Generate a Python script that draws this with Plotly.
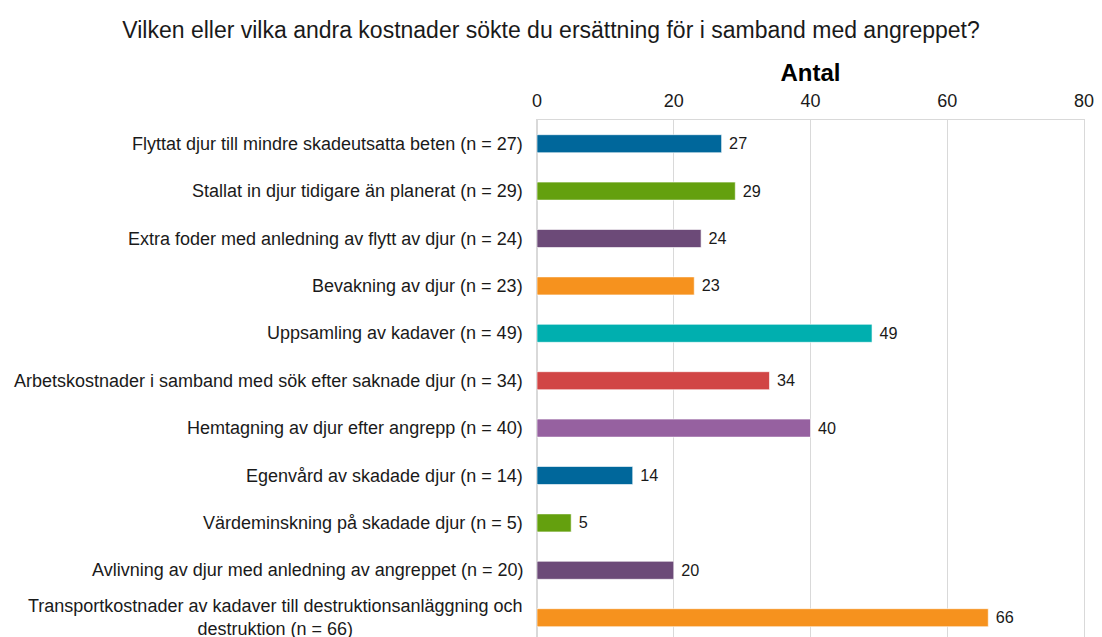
import plotly.graph_objects as go

categories = [
    "Flyttat djur till mindre skadeutsatta beten (n = 27)",
    "Stallat in djur tidigare än planerat (n = 29)",
    "Extra foder med anledning av flytt av djur (n = 24)",
    "Bevakning av djur (n = 23)",
    "Uppsamling av kadaver (n = 49)",
    "Arbetskostnader i samband med sök efter saknade djur (n = 34)",
    "Hemtagning av djur efter angrepp (n = 40)",
    "Egenvård av skadade djur (n = 14)",
    "Värdeminskning på skadade djur (n = 5)",
    "Avlivning av djur med anledning av angreppet (n = 20)",
    "Transportkostnader av kadaver till destruktionsanläggning och<br>destruktion (n = 66)",
]
values = [27, 29, 24, 23, 49, 34, 40, 14, 5, 20, 66]
colors = ["#00679B", "#64A00E", "#6C4A78", "#F6921E", "#00AFAF",
          "#D14545", "#9661A0", "#00679B", "#64A00E", "#6C4A78", "#F6921E"]
x_ticks = [0, 20, 40, 60, 80]

font = "Liberation Sans, Arial, sans-serif"
txt = "#1a1a1a"
grid = "#D9D9D9"

W, H = 1086, 629
T = 112
row_px = 47.4
y_bottom = -0.5 + (H - T) / row_px

fig = go.Figure(go.Bar(
    y=list(range(len(categories))),
    x=values,
    orientation="h",
    width=0.38,
    marker=dict(color=colors, line=dict(color="rgba(255,255,255,0.6)", width=1)),
    texttemplate=" %{x}",
    textposition="outside",
    textfont=dict(size=18, color=txt, family=font),
    cliponaxis=False,
))

for i, c in enumerate(categories):
    fig.add_annotation(
        x=0, xref="paper", y=i, yref="y",
        text=c, showarrow=False, xanchor="right", xshift=-12,
        align="center", font=dict(size=18, color=txt, family=font),
    )

fig.update_layout(
    width=W, height=H,
    margin=dict(l=529, r=10, t=T, b=0),
    paper_bgcolor="white", plot_bgcolor="white",
    showlegend=False,
    title=dict(
        text="Vilken eller vilka andra kostnader sökte du ersättning för i samband med angreppet?",
        x=(551 - 8) / W, xanchor="center", y=1 - 22 / H, yanchor="middle",
        font=dict(size=23, color=txt, family=font),
    ),
    xaxis=dict(
        side="top", range=[0, 80], tickvals=x_ticks,
        showgrid=True, gridcolor=grid, gridwidth=1,
        zeroline=True, zerolinecolor=grid,
        showline=True, linecolor=grid, linewidth=1,
        ticks="", ticklabelstandoff=5, ticklabeloverflow="allow",
        tickfont=dict(size=18, color=txt, family=font),
        title=dict(text="<b>Antal</b>", font=dict(size=24, color="#000", family=font), standoff=2),
    ),
    yaxis=dict(
        range=[y_bottom, -0.5], showticklabels=False, showgrid=False,
        zeroline=False, ticks="",
        showline=True, mirror=True, linecolor=grid, linewidth=1,
    ),
)

fig.write_html("out.html")
